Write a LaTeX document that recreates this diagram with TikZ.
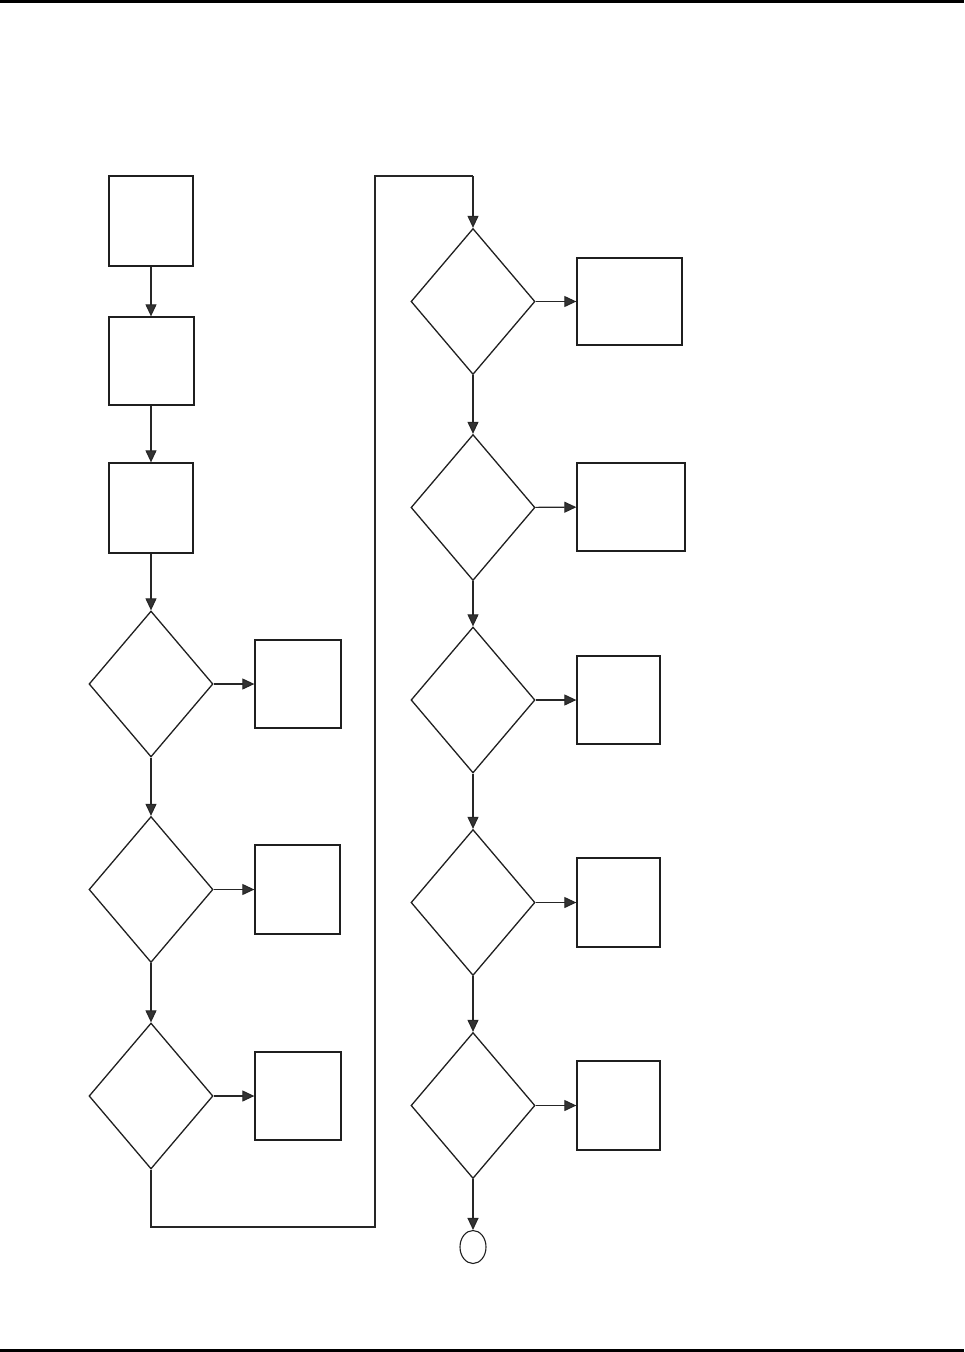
\documentclass[tikz,border=0pt]{standalone}
\usetikzlibrary{shapes.geometric,arrows.meta}
\begin{document}
\begin{tikzpicture}[x=1pt,y=-1pt,
  ln/.style={line width=1.3pt,draw=black!88},
  box/.style={ln,rectangle,minimum width=#1,inner sep=0pt},
  dec/.style={ln,diamond,minimum width=124pt,minimum height=146pt,inner sep=0pt,aspect=0.85},
  arr/.style={line width=1.1pt,draw=black!85,-{Triangle[length=12pt,width=11pt,fill=black!80]}},
  plain/.style={line width=1.1pt,draw=black!85}]
\useasboundingbox (0,0) rectangle (964,1352);
\fill[black] (0,0) rectangle (964,2.5);
\fill[black] (0,1349) rectangle (964,1352);
% left column
\node[box=84pt,minimum height=90pt] (b1) at (151,221) {};
\node[box=85pt,minimum height=88pt] (b2) at (151.5,361) {};
\node[box=84pt,minimum height=90pt] (b3) at (151,508) {};
\node[dec] (d1) at (151,684) {};
\node[dec] (d2) at (151,889.5) {};
\node[dec] (d3) at (151,1096) {};
\node[box=86pt,minimum height=88pt] (e1) at (298,684) {};
\node[box=85pt,minimum height=89pt] (e2) at (297.5,889.5) {};
\node[box=86pt,minimum height=88pt] (e3) at (298,1096) {};
% right column
\node[dec] (d4) at (473,301.5) {};
\node[dec] (d5) at (473,507.5) {};
\node[dec] (d6) at (473,700) {};
\node[dec] (d7) at (473,902.5) {};
\node[dec] (d8) at (473,1105.5) {};
\node[box=105pt,minimum height=87pt] (f1) at (629.5,301.5) {};
\node[box=108pt,minimum height=88pt] (f2) at (631,507) {};
\node[box=83pt,minimum height=88pt] (f3) at (618.5,700) {};
\node[box=83pt,minimum height=89pt] (f4) at (618.5,902.5) {};
\node[box=83pt,minimum height=89pt] (f5) at (618.5,1105.5) {};
\node[ln,ellipse,minimum width=26pt,minimum height=33pt,inner sep=0pt,line width=1.1pt] (end) at (473,1247) {};
\coordinate (c1) at (151,1227);
\coordinate (c2) at (375,1227);
\coordinate (c3) at (375,176);
\coordinate (c4) at (473,176);
% connectors
\draw[arr] (b1.south) -- (b1.south |- b2.north);
\draw[arr] (b2.south -| b3.north) -- (b3.north);
\draw[arr] (b3) -- (d1);
\draw[arr] (d1) -- (d2);
\draw[arr] (d2) -- (d3);
\draw[arr] (d1) -- (e1);
\draw[arr] (d2) -- (e2);
\draw[arr] (d3) -- (e3);
\draw[plain] (d3.south) -- (c1) -- (c2) -- (c3) -- (c4);
\draw[arr] (c4) -- (d4.north);
\draw[arr] (d4) -- (d5);
\draw[arr] (d5) -- (d6);
\draw[arr] (d6) -- (d7);
\draw[arr] (d7) -- (d8);
\draw[arr] (d8) -- (end);
\draw[arr] (d4) -- (f1);
\draw[arr] (d5) -- (f2);
\draw[arr] (d6) -- (f3);
\draw[arr] (d7) -- (f4);
\draw[arr] (d8) -- (f5);
\end{tikzpicture}
\end{document}
